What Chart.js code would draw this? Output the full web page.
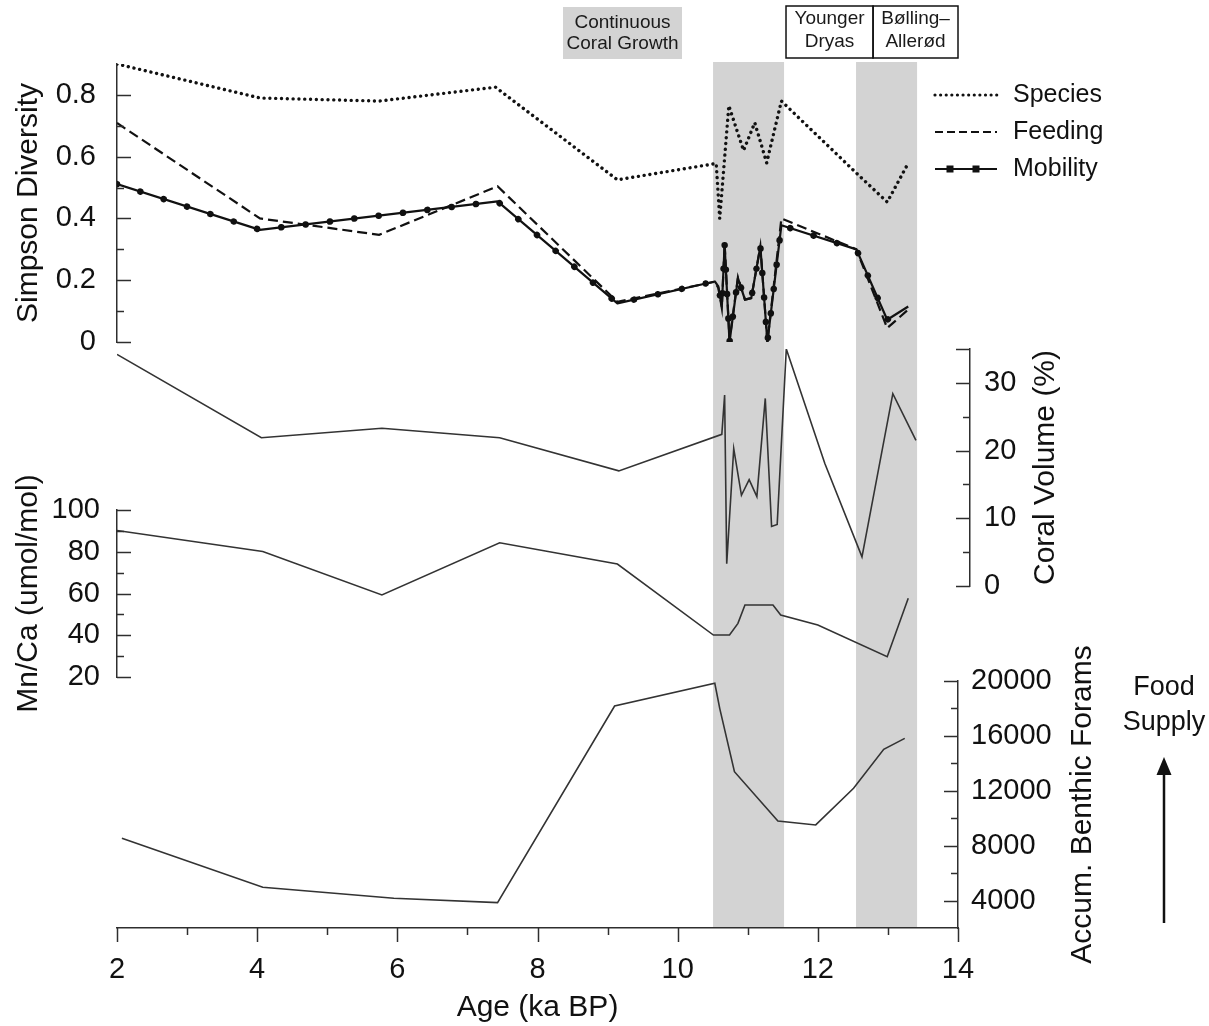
<!DOCTYPE html>
<html lang="en">
<head>
<meta charset="utf-8">
<title>Diversity, coral volume, Mn/Ca and benthic forams vs age</title>
<script src="https://cdn.jsdelivr.net/npm/chart.js@4.4.1/dist/chart.umd.min.js"></script>
<style>
  html, body { margin: 0; padding: 0; background: #ffffff; }
  #wrap { position: relative; width: 1209px; height: 1026px; }
  canvas { display: block; }
</style>
</head>
<body>
<div id="wrap"><canvas id="chart" width="1209" height="1026"></canvas></div>
<script>
// =====================
// DATA
// =====================
// x = age in ka BP
const xTicks = [2, 4, 6, 8, 10, 12, 14];
const xMinor = [3, 5, 7, 9, 11, 13];

// Simpson diversity panel
const simpsonTicks = [0, 0.2, 0.4, 0.6, 0.8];
const simpsonMinor = [0.1, 0.3, 0.5, 0.7];

const speciesAge = [2.0, 4.04, 5.74, 7.40, 9.14, 10.55, 10.60, 10.73, 10.94, 11.10, 11.27, 11.48, 12.55, 12.99, 13.29];
const speciesVal = [0.90, 0.79, 0.78, 0.825, 0.525, 0.578, 0.40, 0.765, 0.62, 0.71, 0.58, 0.78, 0.547, 0.453, 0.579];

const feedingAge = [2.0, 4.04, 5.74, 7.43, 9.14, 10.53, 10.58, 10.63, 10.67, 10.74, 10.86, 10.96, 11.05, 11.18, 11.28, 11.48, 12.55, 12.99, 13.29];
const feedingVal = [0.709, 0.40, 0.347, 0.504, 0.13, 0.195, 0.175, 0.11, 0.32, 0.005, 0.21, 0.137, 0.142, 0.31, 0.0, 0.40, 0.30, 0.045, 0.105];

const mobilityAge = [2.0, 4.04, 7.43, 9.14, 10.53, 10.58, 10.63, 10.67, 10.74, 10.86, 10.96, 11.05, 11.18, 11.28, 11.48, 12.55, 12.99, 13.29];
const mobilityVal = [0.511, 0.363, 0.455, 0.125, 0.196, 0.18, 0.115, 0.315, 0.0, 0.207, 0.137, 0.142, 0.309, 0.0, 0.378, 0.30, 0.072, 0.115];

// Coral volume panel (%)
const coralTicks = [0, 10, 20, 30];
const coralMinor = [5, 15, 25];
const coralAge = [2.0, 4.06, 5.78, 7.46, 9.16, 10.63, 10.67, 10.70, 10.80, 10.91, 11.02, 11.13, 11.25, 11.34, 11.42, 11.55, 12.1, 12.63, 13.07, 13.40];
const coralVal = [34.2, 21.9, 23.3, 21.9, 17.0, 22.4, 28.2, 3.3, 20.3, 13.4, 15.7, 13.2, 27.7, 8.8, 9.1, 35.0, 18.1, 4.3, 28.4, 21.5];

// Mn/Ca panel (umol/mol)
const mnCaTicks = [20, 40, 60, 80, 100];
const mnCaMinor = [30, 50, 70, 90];
const mnCaAge = [2.0, 4.08, 5.78, 7.46, 9.14, 10.51, 10.74, 10.86, 10.96, 11.36, 11.47, 12.0, 12.99, 13.29];
const mnCaVal = [90.2, 80.1, 59.3, 84.3, 74.1, 40.1, 40.1, 45.7, 54.5, 54.5, 49.7, 44.9, 29.7, 57.7];

// Accumulated benthic forams panel
const foramTicks = [4000, 8000, 12000, 16000, 20000];
const foramMinor = [6000, 10000, 14000, 18000];
const foramAge = [2.07, 4.08, 5.95, 7.43, 9.10, 10.53, 10.60, 10.81, 11.43, 11.97, 12.51, 12.94, 13.24];
const foramVal = [8540, 4970, 4170, 3850, 18180, 19830, 18010, 13390, 9800, 9510, 12180, 15020, 15820];

// grey intervals and the period boxes above the plot (ka BP)
const bandFrom = [10.505, 12.545];
const bandTo = [11.518, 13.416];
const periodNames = [["Continuous", "Coral Growth"], ["Younger", "Dryas"], ["Bølling–", "Allerød"]];
const periodFrom = [8.364, 11.546, 12.788];
const periodTo = [10.062, 12.788, 14];

// =====================
// LOOK & LAYOUT
// =====================
const FONT = "'Liberation Sans', Arial, Helvetica, sans-serif";
const INK = "#111111";
const AXIS = "#2e2e2e";
const THIN = "#333333";
const BAND = "#d3d3d3";

const W = 1209, H = 1026;
const PLOT = { left: 117, right: 958, top: 62, bottom: 928 };

// pixel span of each stacked y axis
const panels = {
    ySimpson: { top: 64, bottom: 342 },
    yCoral: { top: 349, bottom: 586, x: 970 },
    yMn: { top: 510, bottom: 677 },
    yAccum: { top: 681, bottom: 928 }
};

const tickMarks = {
    x: { major: xTicks, minor: xMinor },
    ySimpson: { major: simpsonTicks, minor: simpsonMinor },
    yCoral: { major: coralTicks.concat([35]), minor: coralMinor },
    yMn: { major: mnCaTicks, minor: mnCaMinor },
    yAccum: { major: foramTicks, minor: foramMinor }
};

const rightTitles = [
    { id: "yCoral", text: "Coral Volume (%)", dx: 76 },
    { id: "yAccum", text: "Accum. Benthic Forams", dx: 125 }
];

function points(ages, values) {
    return ages.map((a, i) => ({ x: a, y: values[i] }));
}

function useTicks(list) {
    return scale => { scale.ticks = list.map(v => ({ value: v })); };
}

function yAxis(position, min, max, ticks, padding, width) {
    return {
        type: "linear",
        position: position,
        min: min,
        max: max,
        afterBuildTicks: useTicks(ticks),
        afterFit: scale => { scale.width = width; },
        grid: { display: false, drawTicks: false },
        border: { display: true, color: AXIS, width: 1.5 },
        ticks: {
            color: INK,
            padding: padding,
            autoSkip: false,
            font: { family: FONT, size: 29 },
            callback: v => String(v)
        }
    };
}

// =====================
// PLUGINS
// =====================
// put every y axis on its own strip of the page
const panelLayout = {
    id: "panelLayout",
    afterLayout(chart) {
        const area = chart.chartArea;
        Object.keys(panels).forEach(id => {
            const s = chart.scales[id];
            const p = panels[id];
            s.top = p.top;
            s.bottom = p.bottom;
            s.height = p.bottom - p.top;
            if (s.position === "left") {
                s.left = 0;
                s.right = area.left;
            } else {
                s.left = p.x || area.right;
                s.right = chart.width;
            }
            s.width = s.right - s.left;
            s.configure();
        });
    }
};

// grey bands + period boxes
const backdrop = {
    id: "backdrop",
    beforeDraw(chart) {
        const { ctx, chartArea, scales: { x } } = chart;
        ctx.save();
        ctx.fillStyle = BAND;
        bandFrom.forEach((from, i) => {
            const x0 = x.getPixelForValue(from);
            const x1 = x.getPixelForValue(bandTo[i]);
            ctx.fillRect(x0, chartArea.top, x1 - x0, chartArea.bottom - chartArea.top);
        });

        ctx.font = "19px " + FONT;
        ctx.textAlign = "center";
        ctx.textBaseline = "middle";
        periodNames.forEach((lines, i) => {
            const left = x.getPixelForValue(periodFrom[i]);
            const right = x.getPixelForValue(periodTo[i]);
            const filled = i === 0;
            const top = filled ? 7 : 6;
            const bottom = filled ? 59 : 58;
            if (filled) {
                ctx.fillStyle = BAND;
                ctx.fillRect(left, top, right - left, bottom - top);
            } else {
                ctx.strokeStyle = INK;
                ctx.lineWidth = 1.5;
                ctx.strokeRect(left, top, right - left, bottom - top);
            }
            ctx.fillStyle = "#1a1a1a";
            const ys = filled ? [22.5, 43.5] : [18.5, 41.5];
            lines.forEach((t, k) => ctx.fillText(t, (left + right) / 2, ys[k]));
        });
        ctx.restore();
    }
};

// tick marks, right-hand titles, legend, food supply arrow
const decorations = {
    id: "decorations",
    afterDraw(chart) {
        const ctx = chart.ctx;
        ctx.save();

        // tick marks (major 14px, minor 7px)
        ctx.strokeStyle = AXIS;
        ctx.lineWidth = 1.5;
        Object.keys(tickMarks).forEach(id => {
            const s = chart.scales[id];
            const mark = (v, len) => {
                const p = Math.round(s.getPixelForValue(v)) + 0.5;
                ctx.beginPath();
                if (s.isHorizontal()) {
                    ctx.moveTo(p, s.top);
                    ctx.lineTo(p, s.top + len);
                } else if (s.position === "left") {
                    ctx.moveTo(s.right, p);
                    ctx.lineTo(s.right + len, p);
                } else {
                    ctx.moveTo(s.left, p);
                    ctx.lineTo(s.left - len, p);
                }
                ctx.stroke();
            };
            tickMarks[id].major.forEach(v => mark(v, 14));
            tickMarks[id].minor.forEach(v => mark(v, 7));
        });

        // titles of the right axes read bottom-to-top
        ctx.fillStyle = INK;
        ctx.font = "30px " + FONT;
        ctx.textAlign = "center";
        ctx.textBaseline = "middle";
        rightTitles.forEach(t => {
            const s = chart.scales[t.id];
            ctx.save();
            ctx.translate(s.left + t.dx, (s.top + s.bottom) / 2);
            ctx.rotate(-Math.PI / 2);
            ctx.fillText(t.text, 0, 0);
            ctx.restore();
        });

        // legend
        const lx0 = 935, lx1 = 997, tx = 1013;
        const rows = [95, 132, 169];
        ctx.strokeStyle = INK;
        ctx.lineCap = "round";
        ctx.lineWidth = 3.2;
        ctx.setLineDash([0.01, 5.6]);
        ctx.beginPath(); ctx.moveTo(lx0, rows[0]); ctx.lineTo(lx1, rows[0]); ctx.stroke();
        ctx.lineCap = "butt";
        ctx.lineWidth = 2.2;
        ctx.setLineDash([8, 4]);
        ctx.beginPath(); ctx.moveTo(lx0, rows[1]); ctx.lineTo(lx1, rows[1]); ctx.stroke();
        ctx.setLineDash([]);
        ctx.beginPath(); ctx.moveTo(lx0, rows[2]); ctx.lineTo(lx1, rows[2]); ctx.stroke();
        ctx.fillStyle = INK;
        [950, 976].forEach(px => ctx.fillRect(px - 3.5, rows[2] - 3.5, 7, 7));
        ctx.font = "25px " + FONT;
        ctx.textAlign = "left";
        ["Species", "Feeding", "Mobility"].forEach((t, i) => ctx.fillText(t, tx, rows[i]));

        // food supply arrow
        ctx.textAlign = "center";
        ctx.font = "27px " + FONT;
        ctx.fillText("Food", 1164, 688);
        ctx.fillText("Supply", 1164, 723);
        ctx.lineWidth = 2.5;
        ctx.beginPath(); ctx.moveTo(1164, 923); ctx.lineTo(1164, 772); ctx.stroke();
        ctx.beginPath();
        ctx.moveTo(1164, 757);
        ctx.lineTo(1156.5, 775);
        ctx.lineTo(1171.5, 775);
        ctx.closePath();
        ctx.fill();

        ctx.restore();
    }
};

// =====================
// CHART
// =====================
const simpsonAxis = yAxis("left", 0, 0.9, simpsonTicks, 21, PLOT.left);
simpsonAxis.title = {
    display: true, text: "Simpson Diversity", color: INK,
    font: { family: FONT, size: 30 }, padding: { top: 11 }
};
const mnCaAxis = yAxis("left", 20, 100, mnCaTicks, 17, 0);
mnCaAxis.title = {
    display: true, text: "Mn/Ca (umol/mol)", color: INK,
    font: { family: FONT, size: 30 }, padding: { top: 11 }
};

new Chart(document.getElementById("chart"), {
    type: "line",
    data: {
        datasets: [
            {
                label: "Species", yAxisID: "ySimpson",
                data: points(speciesAge, speciesVal),
                borderColor: INK, borderWidth: 3.4,
                borderDash: [0.01, 5.8], borderCapStyle: "round"
            },
            {
                label: "Feeding", yAxisID: "ySimpson",
                data: points(feedingAge, feedingVal),
                borderColor: INK, borderWidth: 2.2, borderDash: [10, 5]
            },
            {
                label: "Mobility", yAxisID: "ySimpson",
                data: points(mobilityAge, mobilityVal),
                borderColor: INK, borderWidth: 2.2, borderJoinStyle: "round"
            },
            {
                // the round markers that sit along the mobility line
                label: "Mobility markers", yAxisID: "ySimpson",
                data: points(mobilityAge, mobilityVal),
                borderColor: INK, borderWidth: 6.5,
                borderDash: [0.01, 24.5], borderCapStyle: "round"
            },
            {
                label: "Coral Volume", yAxisID: "yCoral",
                data: points(coralAge, coralVal),
                borderColor: THIN, borderWidth: 1.6
            },
            {
                label: "Mn/Ca", yAxisID: "yMn",
                data: points(mnCaAge, mnCaVal),
                borderColor: THIN, borderWidth: 1.6
            },
            {
                label: "Accum. Benthic Forams", yAxisID: "yAccum",
                data: points(foramAge, foramVal),
                borderColor: THIN, borderWidth: 1.6
            }
        ]
    },
    options: {
        responsive: false,
        animation: false,
        events: [],
        devicePixelRatio: 1,
        layout: { padding: { top: PLOT.top, left: 0, right: 0, bottom: 0 } },
        elements: {
            point: { radius: 0, hoverRadius: 0 },
            line: { tension: 0, fill: false }
        },
        plugins: {
            legend: { display: false },
            tooltip: { enabled: false }
        },
        scales: {
            x: {
                type: "linear",
                position: "bottom",
                min: 2,
                max: 14,
                afterBuildTicks: useTicks(xTicks),
                afterFit: scale => { scale.height = H - PLOT.bottom; },
                grid: { display: false, drawTicks: false },
                border: { display: true, color: AXIS, width: 1.5 },
                ticks: {
                    color: INK, padding: 25, maxRotation: 0, autoSkip: false,
                    font: { family: FONT, size: 29 },
                    callback: v => String(v)
                },
                title: {
                    display: true, text: "Age (ka BP)", color: INK,
                    font: { family: FONT, size: 30 }, padding: { top: 0, bottom: 0 }
                }
            },
            ySimpson: simpsonAxis,
            yMn: mnCaAxis,
            yAccum: yAxis("right", 2000, 20000, foramTicks, 13, W - PLOT.right),
            yCoral: yAxis("right", 0, 35, coralTicks, 14, 0)
        }
    },
    plugins: [panelLayout, backdrop, decorations]
});
</script>
</body>
</html>
